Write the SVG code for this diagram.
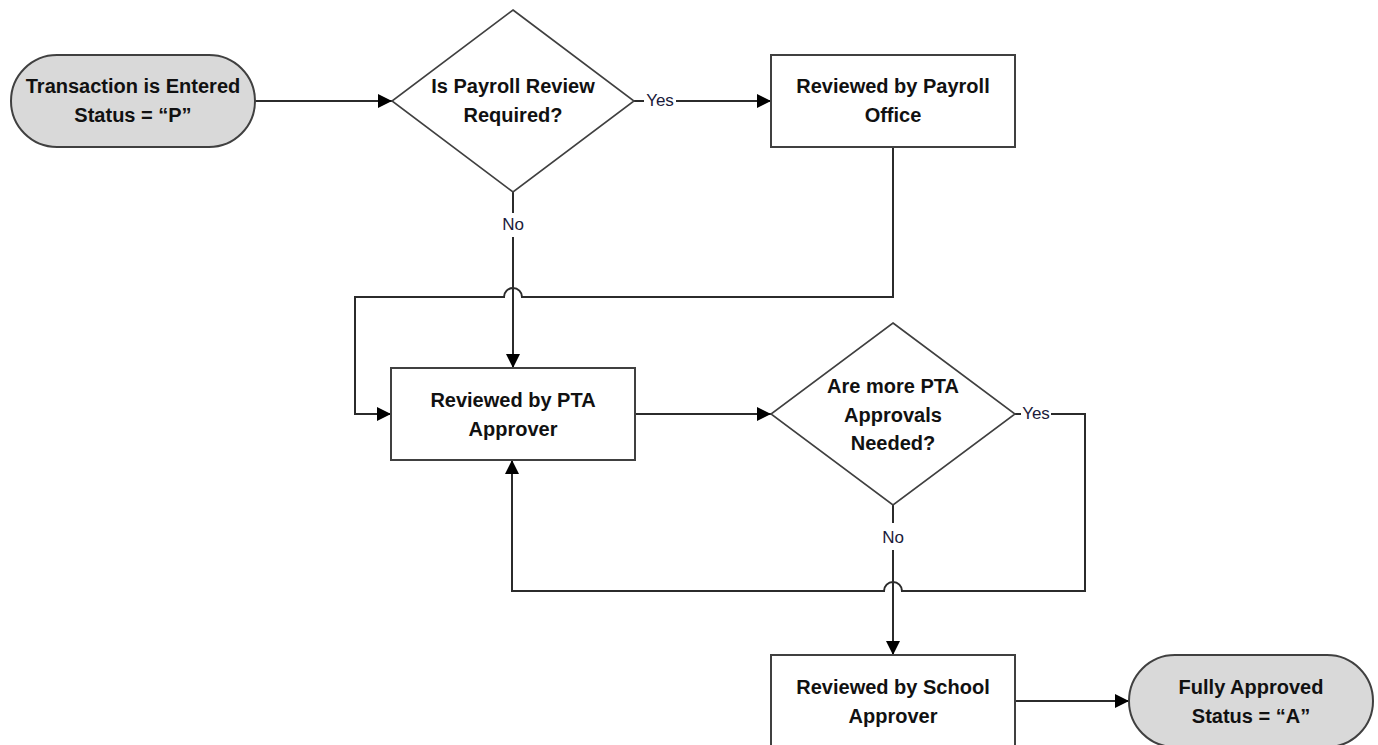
<svg xmlns="http://www.w3.org/2000/svg" width="1378" height="745" viewBox="0 0 1378 745">
<defs>
<marker id="arr" markerUnits="userSpaceOnUse" markerWidth="16" markerHeight="16" viewBox="0 0 16 16" refX="15" refY="8" orient="auto">
<path d="M1,1 L15,8 L1,15 Z" fill="#000"/>
</marker>
<style>
.term{fill:#d9d9d9;stroke:#404040;stroke-width:2}
.box{fill:#fff;stroke:#404040;stroke-width:2}
.dia{fill:#fff;stroke:#404040;stroke-width:1.6}
.t{font-family:"Liberation Sans",Arial,sans-serif;font-weight:bold;font-size:20px;fill:#111;text-anchor:middle}
.lbl{font-family:"Liberation Sans",Arial,sans-serif;font-size:17px;fill:#1a1a3a;text-anchor:middle}
.c{fill:none;stroke:#2b2b2b;stroke-width:2}
.lb{fill:#fff}
</style>
</defs>
<rect width="1378" height="745" fill="#fff"/>

<g id="connectors">
<path class="c" d="M255,101 L392,101" marker-end="url(#arr)"/>
<path class="c" d="M634,101 L771,101" marker-end="url(#arr)"/>
<path class="c" d="M513,192 L513,368" marker-end="url(#arr)"/>
<path class="c" d="M893,147 L893,297 L522,297 A9,9 0 0 0 504,297 L355,297 L355,414 L391,414" marker-end="url(#arr)"/>
<path class="c" d="M635,414 L771,414" marker-end="url(#arr)"/>
<path class="c" d="M1015,414 L1085,414 L1085,591 L902,591 A9,9 0 0 0 884,591 L512,591 L512,460" marker-end="url(#arr)"/>
<path class="c" d="M893,505 L893,655" marker-end="url(#arr)"/>
<path class="c" d="M1015,701 L1129,701" marker-end="url(#arr)"/>
<rect class="lb" x="644" y="91" width="32" height="20"/>
<text class="lbl" x="660" y="106">Yes</text>
<rect class="lb" x="499" y="213" width="28" height="24"/>
<text class="lbl" x="513" y="230">No</text>
<rect class="lb" x="1021" y="404" width="30" height="20"/>
<text class="lbl" x="1036" y="419">Yes</text>
<rect class="lb" x="879" y="523" width="28" height="27"/>
<text class="lbl" x="893" y="543">No</text>
</g>

<g id="start">
<rect class="term" x="11" y="55" width="244" height="92" rx="46" ry="46"/>
<text class="t" x="133" y="93">Transaction is Entered</text>
<text class="t" x="133" y="122">Status = “P”</text>
</g>

<g id="payroll-review-decision">
<polygon class="dia" points="513,10 634,101 513,192 392,101"/>
<text class="t" x="513" y="93">Is Payroll Review</text>
<text class="t" x="513" y="122">Required?</text>
</g>

<g id="payroll-office">
<rect class="box" x="771" y="55" width="244" height="92"/>
<text class="t" x="893" y="93">Reviewed by Payroll</text>
<text class="t" x="893" y="122">Office</text>
</g>

<g id="pta-approver">
<rect class="box" x="391" y="368" width="244" height="92"/>
<text class="t" x="513" y="407">Reviewed by PTA</text>
<text class="t" x="513" y="436">Approver</text>
</g>

<g id="more-pta-decision">
<polygon class="dia" points="893,323 1015,414 893,505 771,414"/>
<text class="t" x="893" y="393">Are more PTA</text>
<text class="t" x="893" y="422">Approvals</text>
<text class="t" x="893" y="450">Needed?</text>
</g>

<g id="school-approver">
<rect class="box" x="771" y="655" width="244" height="92"/>
<text class="t" x="893" y="694">Reviewed by School</text>
<text class="t" x="893" y="723">Approver</text>
</g>

<g id="end">
<rect class="term" x="1129" y="655" width="244" height="92" rx="46" ry="46"/>
<text class="t" x="1251" y="694">Fully Approved</text>
<text class="t" x="1251" y="723">Status = “A”</text>
</g>
</svg>
